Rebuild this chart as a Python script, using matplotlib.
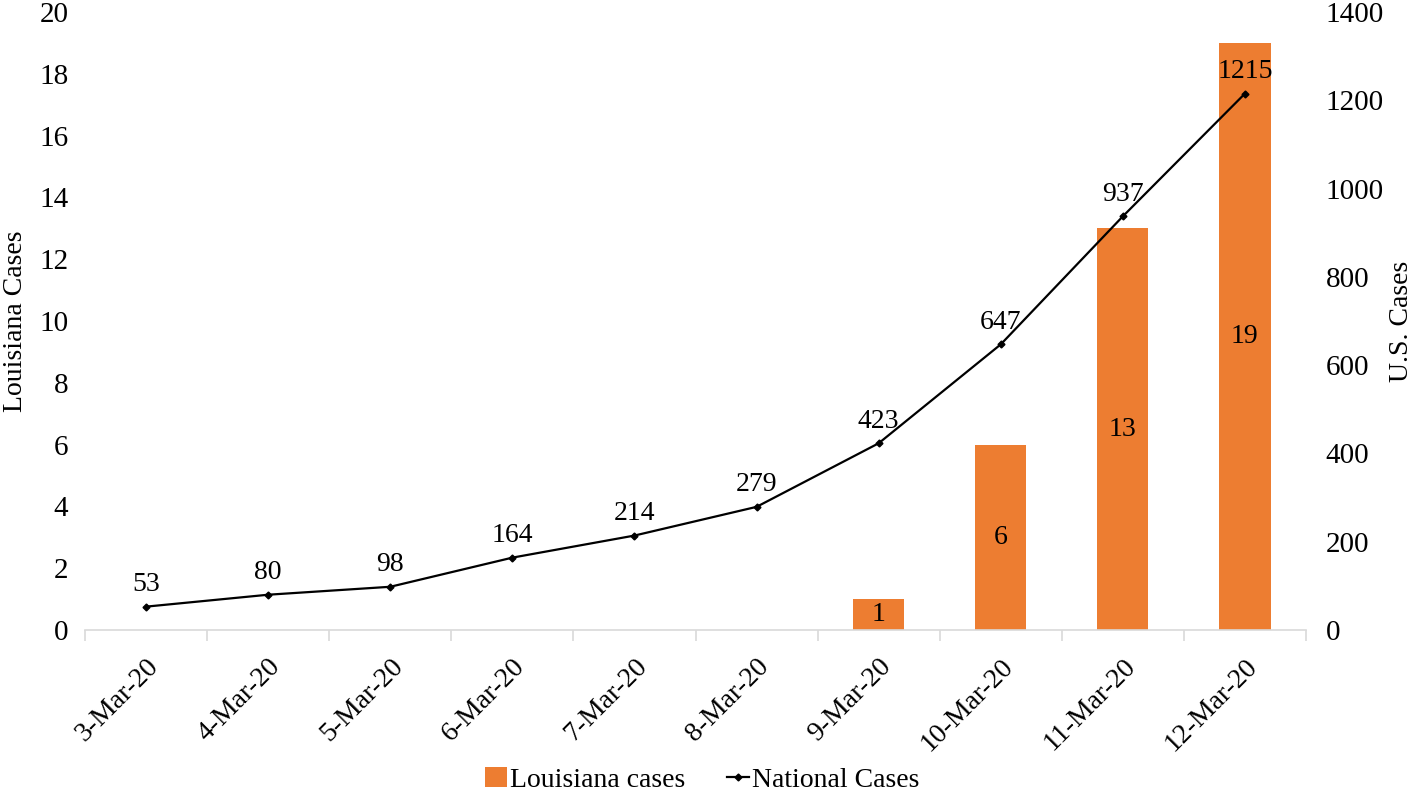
import matplotlib.pyplot as plt
import matplotlib.transforms as mtransforms
import numpy as np

plt.rcParams['font.family'] = ['Liberation Serif', 'DejaVu Serif']

dates = ['3-Mar-20', '4-Mar-20', '5-Mar-20', '6-Mar-20', '7-Mar-20',
         '8-Mar-20', '9-Mar-20', '10-Mar-20', '11-Mar-20', '12-Mar-20']
louisiana = [0, 0, 0, 0, 0, 0, 1, 6, 13, 19]
national = [53, 80, 98, 164, 214, 279, 423, 647, 937, 1215]

orange = '#ED7D31'
fs = 20
tfs = 21

fig = plt.figure(figsize=(14.18, 7.94), dpi=100)
ax = fig.add_axes([0.06, 0.2065, 0.861, 0.7785])
x = np.arange(len(dates))

bars = ax.bar(x, louisiana, width=0.42, color=orange, label='Louisiana cases', zorder=1)
for xi, v in zip(x, louisiana):
    if v > 0:
        ax.text(xi, v / 2, str(v), ha='center', va='center', fontsize=fs)

ax.set_ylim(0, 20)
ax.set_yticks(range(0, 21, 2))
ax.set_xlim(-0.5, len(dates) - 0.5)
ax.set_xticks(x)
ax.set_xticklabels(dates, rotation=45, ha='right', rotation_mode='anchor', fontsize=fs)
# nudge the rotated labels left so they end under the category centre
shift = mtransforms.ScaledTranslation(-0.11, 0, fig.dpi_scale_trans)
for lab in ax.get_xticklabels():
    lab.set_transform(lab.get_transform() + shift)
ax.set_xticks(np.arange(-0.5, len(dates)), minor=True)
ax.tick_params(axis='x', which='major', length=0, pad=17)
ax.tick_params(axis='x', which='minor', length=8, color='#d9d9d9', width=1.2)
ax.tick_params(axis='y', length=0, labelsize=tfs, pad=12)
ax.set_ylabel('Louisiana Cases', fontsize=fs, labelpad=8)
for s in ['top', 'left', 'right']:
    ax.spines[s].set_visible(False)
ax.spines['bottom'].set_color('#d9d9d9')
ax.spines['bottom'].set_linewidth(1.2)

ax2 = ax.twinx()
line, = ax2.plot(x, national, color='black', lw=1.6, marker='D', markersize=3.5,
                 label='National Cases', zorder=3)
for xi, v in zip(x, national):
    ax2.annotate(str(v), (xi, v), xytext=(0, 7), textcoords='offset points',
                 ha='center', va='bottom', fontsize=fs)
ax2.set_ylim(0, 1400)
ax2.set_yticks(range(0, 1401, 200))
ax2.tick_params(axis='y', length=0, labelsize=tfs, pad=14)
ax2.set_ylabel('U.S. Cases', fontsize=fs, labelpad=4)
for s in ['top', 'left', 'right', 'bottom']:
    ax2.spines[s].set_visible(False)

fig.legend([bars, line], ['Louisiana cases', 'National Cases'], loc='lower center',
           bbox_to_anchor=(0.495, -0.03), ncol=2, frameon=False, fontsize=fs,
           handlelength=0.8, handletextpad=0.1, columnspacing=1.5)

fig.savefig('out.png', dpi=100)
